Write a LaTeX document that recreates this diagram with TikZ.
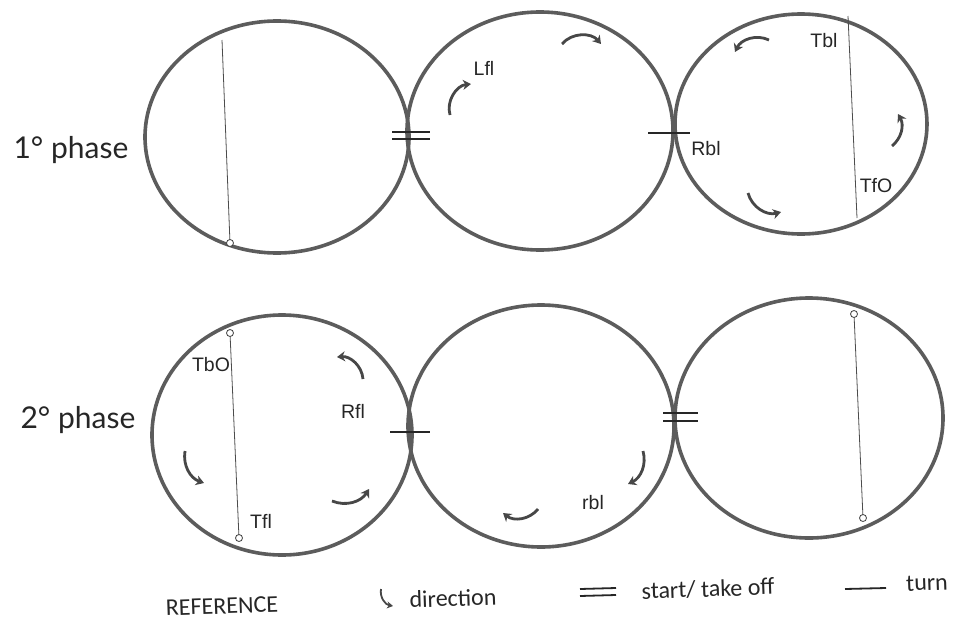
\documentclass[tikz,border=0pt]{standalone}
\usepackage{fontspec}
\setmainfont{Liberation Sans}
\newfontfamily\phasefont{Lato}
\newfontfamily\legfont{Carlito}
\usetikzlibrary{shapes.geometric,arrows.meta}
\definecolor{ink}{gray}{0.36}
\definecolor{arrink}{gray}{0.28}
\begin{document}
\begin{tikzpicture}[x=1pt,y=-1pt,
  ring/.style={ellipse,draw=ink,line width=3.6pt,inner sep=0pt},
  rod/.style={draw=black!70,line width=0.8pt},
  endpt/.style={circle,draw=black!75,fill=white,line width=0.8pt,inner sep=0pt,minimum size=7pt},
  markln/.style={draw=black!85,line width=1.8pt},
  dirarr/.style={draw=arrink,line width=2.8pt,-{Stealth[length=8pt,width=10pt,inset=2.5pt]}},
  lbl/.style={font=\fontsize{19.5}{21}\selectfont,text=black!85,inner sep=0pt},
  phase/.style={font=\phasefont\fontsize{30}{32}\selectfont,text=black!85,inner sep=0pt},
  leg/.style={font=\legfont\fontsize{24}{26}\selectfont,text=black!85,inner sep=0pt,rotate=2}]
\useasboundingbox[fill=white] (0,0) rectangle (955,621);

% ---------- phase labels
\node[phase] (p1) at (71,150) {1° phase};
\node[phase] (p2) at (78,420) {2° phase};

% ---------- rings, phase 1
\node[ring,minimum width=264pt,minimum height=232pt] (tl) at (277,137) {};
\node[ring,minimum width=266pt,minimum height=238pt] (tm) at (540,131) {};
\node[ring,minimum width=252pt,minimum height=220pt] (tr) at (801,124) {};

% ---------- rings, phase 2
\node[ring,minimum width=260pt,minimum height=240pt] (bl) at (282,435) {};
\node[ring,minimum width=266pt,minimum height=242pt] (bm) at (541,426) {};
\node[ring,minimum width=268pt,minimum height=240pt] (br) at (809,418) {};

% ---------- rods
\coordinate (tla) at (222,40);  \coordinate (tlb) at (230,243);
\draw[rod] (tla) -- (tlb); \node[endpt] (tle) at (tlb) {};
\coordinate (tra) at (848,16);  \coordinate (trb) at (857,218);
\draw[rod] (tra) -- (trb);
\coordinate (bla) at (230,333); \coordinate (blb) at (239,538);
\draw[rod] (bla) -- (blb); \node[endpt] (ble1) at (bla) {}; \node[endpt] (ble2) at (blb) {};
\coordinate (bra) at (854,314); \coordinate (brb) at (863,518);
\draw[rod] (bra) -- (brb); \node[endpt] (bre1) at (bra) {}; \node[endpt] (bre2) at (brb) {};

% ---------- marks
\draw[markln] (392,132) -- (430,132);
\draw[markln] (392,139) -- (430,139);
\draw[markln] (648,133) -- (690,133);
\draw[markln] (390,432) -- (430,432);
\draw[markln] (663,413) -- (698,413);
\draw[markln] (663,421) -- (698,421);

% ---------- labels
\node[lbl] (lfl) at (484,68) {Lfl};
\node[lbl] (tbl) at (824,41) {Tbl};
\node[lbl] (rbl) at (706,149) {Rbl};
\node[lbl] (tfo) at (876,186) {TfO};
\node[lbl] (tbo) at (211,365) {TbO};
\node[lbl] (rfl) at (353,411) {Rfl};
\node[lbl] (tfl) at (261,521) {Tfl};
\node[lbl] (rbl2) at (593,503) {rbl};

% ---------- direction arrows
\draw[dirarr] (450,115) to[bend left=50] (471,84);
\draw[dirarr] (562,44) to[bend left=50] (601,44);
\draw[dirarr] (769,40) to[bend right=45] (735,52);
\draw[dirarr] (748,193) to[bend right=45] (781,212);
\draw[dirarr] (892,146) to[bend right=40] (898,114);
\draw[dirarr] (363,379) to[bend right=45] (337,357);
\draw[dirarr] (185,451) to[bend right=40] (204,483);
\draw[dirarr] (332,501) to[bend right=40] (369,489);
\draw[dirarr] (643,451) to[bend left=40] (628,484);
\draw[dirarr] (538,509) to[bend left=45] (503,513);

% ---------- legend
\node[leg] (ref) at (222,606) {REFERENCE};
\coordinate (la) at (381,589); \coordinate (lb) at (393,606);
\draw[draw=arrink,line width=1.8pt,-{Stealth[length=6pt,width=7pt,inset=2pt]}] (la) to[bend right=45] (lb);
\node[leg] (dir) at (453,598) {direction};
\draw[markln] (580,589) -- (616,588);
\draw[markln] (580,596) -- (616,595);
\node[leg] (sto) at (708,589) {start/ take off};
\draw[markln] (845,589) -- (886,588);
\node[leg] (turn) at (927,583) {turn};
\end{tikzpicture}
\end{document}
